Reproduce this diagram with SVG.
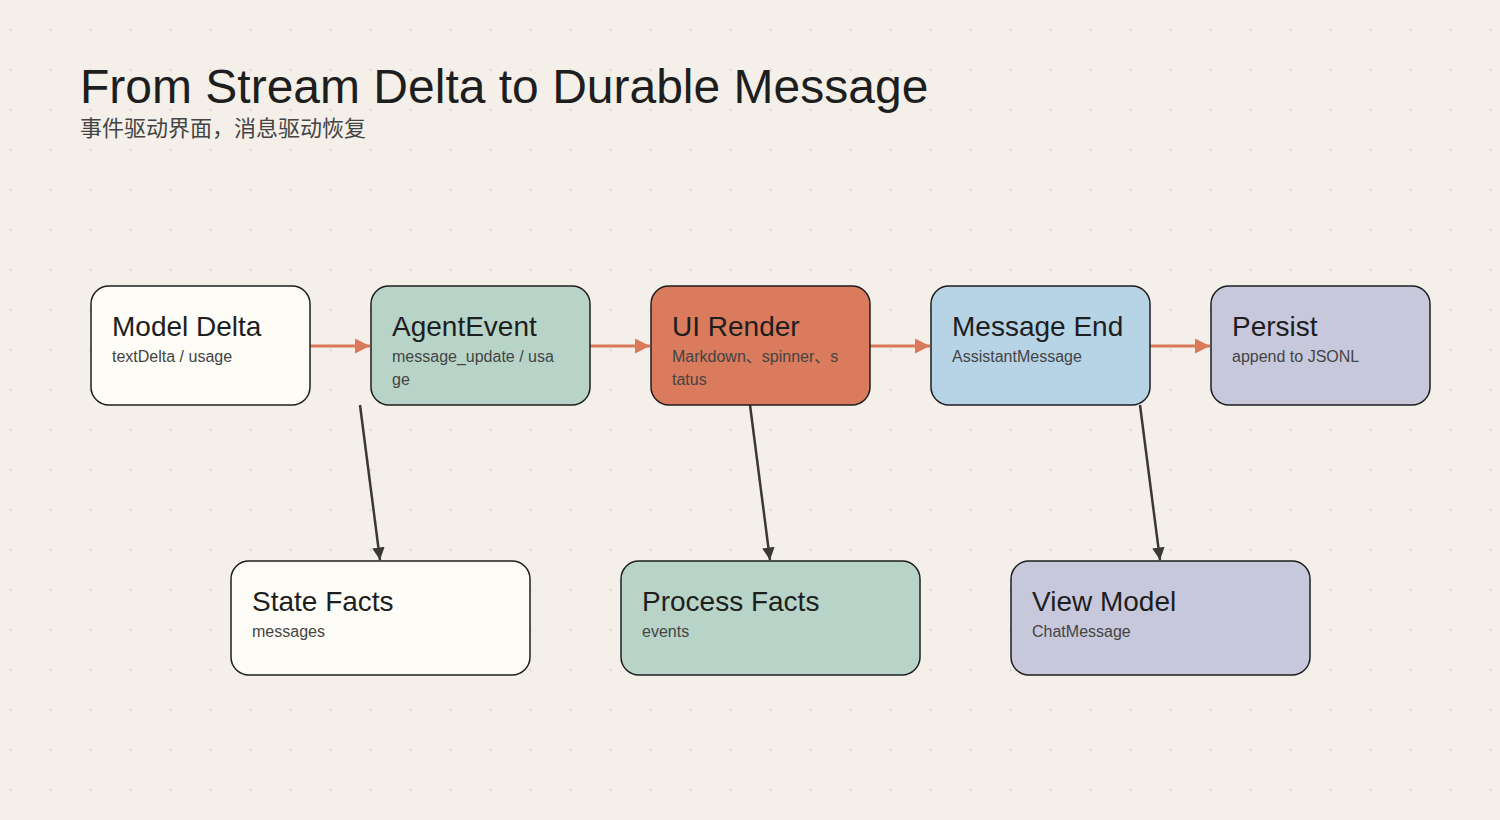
<svg xmlns="http://www.w3.org/2000/svg" width="1500" height="820" viewBox="0 0 1500 820">
<defs>
<pattern id="grid" x="0" y="0" width="40" height="40" patternUnits="userSpaceOnUse">
<path d="M9 30h3M10.5 28.5v3" stroke="#dcd8ce" stroke-width="1"/>
</pattern>
<marker id="ao" viewBox="0 0 10 10" refX="10" refY="5" markerWidth="5" markerHeight="5" orient="auto" markerUnits="strokeWidth"><path d="M0 0L10 5L0 10z" fill="#d9795a"/></marker>
<marker id="ad" viewBox="0 0 10 10" refX="10" refY="5" markerWidth="5" markerHeight="5" orient="auto" markerUnits="strokeWidth"><path d="M0 0L10 5L0 10z" fill="#3a3835"/></marker>
</defs>
<style>
.n{stroke:#1e1e1e;stroke-width:1.5}
.t{font-family:"Liberation Sans",Arial,sans-serif;font-size:28px;fill:#1e1e1e}
.s{font-family:"Liberation Sans",Arial,"Noto Sans CJK SC",sans-serif;font-size:16px;fill:#444}
.h{stroke:#d9795a;stroke-width:3;fill:none}
.d{stroke:#3a3835;stroke-width:2.5;fill:none}
</style>
<rect width="1500" height="820" fill="#f4f0e9"/>
<rect width="1500" height="820" fill="url(#grid)"/>
<text x="80" y="103" font-family="Liberation Sans,Arial,sans-serif" font-size="48" fill="#1e1e1e">From Stream Delta to Durable Message</text>
<text x="80" y="136" font-family="Liberation Sans,'Noto Sans CJK SC',sans-serif" font-size="22" fill="#444">事件驱动界面，消息驱动恢复</text>
<g id="connectors">
<path class="h" d="M310 346H370" marker-end="url(#ao)"/>
<path class="h" d="M590 346H650" marker-end="url(#ao)"/>
<path class="h" d="M870 346H930" marker-end="url(#ao)"/>
<path class="h" d="M1150 346H1210" marker-end="url(#ao)"/>
<path class="d" d="M360 405L380 560" marker-end="url(#ad)"/>
<path class="d" d="M750 405L770 560" marker-end="url(#ad)"/>
<path class="d" d="M1140 405L1160 560" marker-end="url(#ad)"/>
</g>
<g id="model-delta"><rect class="n" x="91" y="286" width="219" height="119" rx="18" fill="#fdfcf7"/><text class="t" x="112" y="336">Model Delta</text><text class="s" x="112" y="362">textDelta / usage</text></g>
<g id="agent-event"><rect class="n" x="371" y="286" width="219" height="119" rx="18" fill="#b8d4c8"/><text class="t" x="392" y="336">AgentEvent</text><text class="s" x="392" y="362">message_update / usa</text><text class="s" x="392" y="385">ge</text></g>
<g id="ui-render"><rect class="n" x="651" y="286" width="219" height="119" rx="18" fill="#d97b5c"/><text class="t" x="672" y="336">UI Render</text><text class="s" x="672" y="362">Markdown、spinner、s</text><text class="s" x="672" y="385">tatus</text></g>
<g id="message-end"><rect class="n" x="931" y="286" width="219" height="119" rx="18" fill="#b7d3e6"/><text class="t" x="952" y="336">Message End</text><text class="s" x="952" y="362">AssistantMessage</text></g>
<g id="persist"><rect class="n" x="1211" y="286" width="219" height="119" rx="18" fill="#c7c8dc"/><text class="t" x="1232" y="336">Persist</text><text class="s" x="1232" y="362">append to JSONL</text></g>
<g id="state-facts"><rect class="n" x="231" y="561" width="299" height="114" rx="18" fill="#fdfcf7"/><text class="t" x="252" y="611">State Facts</text><text class="s" x="252" y="637">messages</text></g>
<g id="process-facts"><rect class="n" x="621" y="561" width="299" height="114" rx="18" fill="#b8d4c8"/><text class="t" x="642" y="611">Process Facts</text><text class="s" x="642" y="637">events</text></g>
<g id="view-model"><rect class="n" x="1011" y="561" width="299" height="114" rx="18" fill="#c7c8dc"/><text class="t" x="1032" y="611">View Model</text><text class="s" x="1032" y="637">ChatMessage</text></g>
</svg>
